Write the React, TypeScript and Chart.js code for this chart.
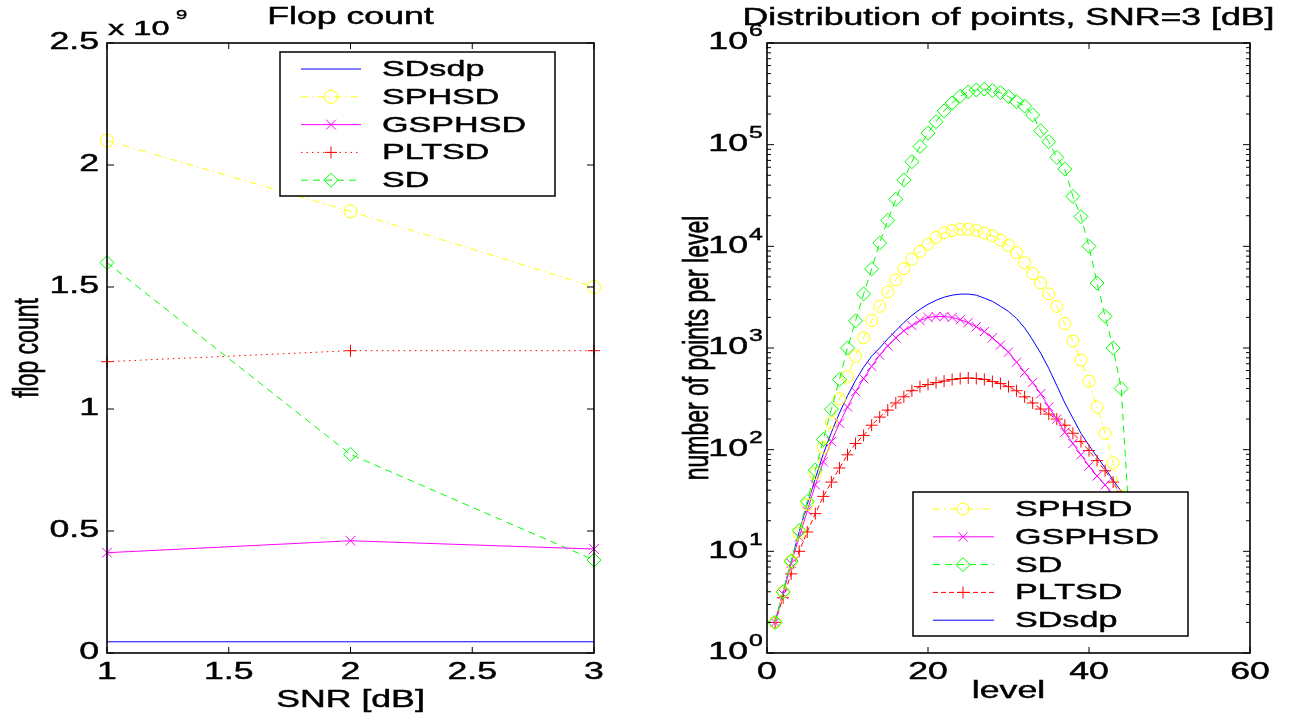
import React, { useEffect, useRef } from 'react';
import { Chart, registerables } from 'chart.js';

Chart.register(...registerables);

const FONT = '"Liberation Sans", Arial, Helvetica, sans-serif';
const STRETCH = 1.55;

// ---------- Left chart: Flop count ----------
const snrDb = [1, 2, 3];
const flopSDsdp = [0.046e9, 0.046e9, 0.046e9];
const flopSPHSD = [2.1e9, 1.81e9, 1.5e9];
const flopGSPHSD = [0.411e9, 0.46e9, 0.426e9];
const flopPLTSD = [1.194e9, 1.239e9, 1.239e9];
const flopSD = [1.6e9, 0.814e9, 0.381e9];
const flopXTicks = [1, 1.5, 2, 2.5, 3];
const flopYTicks = [0, 0.5e9, 1e9, 1.5e9, 2e9, 2.5e9];

// ---------- Right chart: Distribution of points ----------
const levels = [1, 2, 3, 4, 5, 6, 7, 8, 9, 10, 11, 12, 13, 14, 15, 16, 17, 18, 19, 20, 21, 22, 23, 24, 25, 26, 27, 28, 29, 30, 31, 32, 33, 34, 35, 36, 37, 38, 39, 40, 41, 42, 43, 44, 45];
const ptsSD = [2, 4, 8, 16, 31, 63, 126, 250, 490, 1000, 1850, 3400, 6000, 10800, 18000, 29000, 45000, 68000, 96000, 130000, 168000, 215000, 257000, 300000, 330000, 345000, 352000, 340000, 325000, 297000, 265000, 240000, 196000, 137000, 107000, 75000, 57500, 31000, 19600, 10000, 4350, 2050, 1000, 400, 20];
const ptsSPHSD = [2, 4, 8, 15, 29, 58, 105, 186, 316, 525, 830, 1260, 1860, 2570, 3550, 4680, 6030, 7500, 8900, 10500, 12300, 13600, 14300, 14700, 14700, 14300, 13500, 12700, 11500, 10200, 8700, 6900, 5400, 4360, 3400, 2570, 1740, 1170, 760, 470, 263, 145, 74, 35, 12];
const ptsGSPHSD = [2, 3.8, 7.6, 13.8, 25, 45, 76, 120, 182, 263, 372, 500, 660, 850, 1050, 1260, 1480, 1660, 1860, 2000, 2040, 2040, 2000, 1900, 1780, 1620, 1450, 1260, 1070, 910, 725, 575, 457, 355, 263, 200, 148, 115, 89, 69, 55, 45, 36, 28];
const ptsPLTSD = [2, 3.5, 6, 10, 15.5, 23.5, 34.7, 48, 66, 89, 115, 138, 174, 209, 245, 288, 331, 380, 417, 437, 457, 473, 490, 501, 507, 501, 490, 468, 447, 417, 380, 331, 288, 251, 224, 200, 174, 145, 120, 98, 78, 62, 48, 35];
const ptsSDsdp = [2, 4, 7.9, 15.5, 29, 52, 91, 148, 229, 339, 479, 646, 832, 1000, 1230, 1480, 1780, 2090, 2400, 2690, 2950, 3160, 3310, 3390, 3390, 3310, 3090, 2880, 2570, 2290, 1950, 1580, 1200, 890, 630, 427, 288, 204, 145, 110, 85, 66, 50, 39, 22];
const levelTicks = [0, 20, 40, 60];
const countTicks = [1, 10, 100, 1000, 10000, 100000, 1000000];

type Marker = 'none' | 'circle' | 'crossRot' | 'cross' | 'rectRot';
interface Style { label: string; color: string; dash: number[]; marker: Marker; radius: number; }

const DASHDOT = [7, 4, 1.5, 4];
const DASHED = [7, 5];
const DOTTED = [1.5, 4];

const leftStyles: Record<string, Style> = {
  SDsdp: { label: 'SDsdp', color: '#0000ff', dash: [], marker: 'none', radius: 0 },
  SPHSD: { label: 'SPHSD', color: '#ffff00', dash: DASHDOT, marker: 'circle', radius: 6.5 },
  GSPHSD: { label: 'GSPHSD', color: '#ff00ff', dash: [], marker: 'crossRot', radius: 7 },
  PLTSD: { label: 'PLTSD', color: '#ff0000', dash: DOTTED, marker: 'cross', radius: 6 },
  SD: { label: 'SD', color: '#00ff00', dash: DASHED, marker: 'rectRot', radius: 7 },
};
const rightStyles: Record<string, Style> = {
  SPHSD: { label: 'SPHSD', color: '#ffff00', dash: DASHDOT, marker: 'circle', radius: 6 },
  GSPHSD: { label: 'GSPHSD', color: '#ff00ff', dash: [], marker: 'crossRot', radius: 6.5 },
  SD: { label: 'SD', color: '#00ff00', dash: DASHED, marker: 'rectRot', radius: 7 },
  PLTSD: { label: 'PLTSD', color: '#ff0000', dash: [5, 3], marker: 'cross', radius: 6 },
  SDsdp: { label: 'SDsdp', color: '#0000ff', dash: [], marker: 'none', radius: 0 },
};

function patchContext(ctx: any) {
  if (ctx.__patched) return;
  const orig = ctx.fillText;
  ctx.__origFillText = orig;
  ctx.fillText = function (text: string, x: number, y: number) {
    this.save();
    this.translate(x, y);
    this.scale(STRETCH, 1);
    orig.call(this, text, 0, 0);
    this.strokeStyle = this.fillStyle;
    this.lineWidth = 0.45;
    this.setLineDash([]);
    this.strokeText(text, 0, 0);
    this.restore();
  };
  ctx.__patched = true;
}

function drawRotated(ctx: any, text: string, x: number, y: number, size: number) {
  ctx.save();
  ctx.font = `${size}px ${FONT}`;
  ctx.fillStyle = '#000';
  ctx.strokeStyle = '#000';
  ctx.lineWidth = 0.45;
  ctx.translate(x, y);
  ctx.rotate(-Math.PI / 2);
  ctx.scale(1, STRETCH);
  ctx.textAlign = 'center';
  ctx.textBaseline = 'alphabetic';
  ctx.__origFillText.call(ctx, text, 0, 0);
  ctx.strokeText(text, 0, 0);
  ctx.restore();
}

function drawText(ctx: any, text: string, x: number, y: number, size: number, align: CanvasTextAlign, baseline: CanvasTextBaseline) {
  ctx.save();
  ctx.font = `${size}px ${FONT}`;
  ctx.fillStyle = '#000';
  ctx.textAlign = align;
  ctx.textBaseline = baseline;
  ctx.fillText(text, x, y);
  ctx.restore();
}

function drawMarker(ctx: CanvasRenderingContext2D, m: Marker, x: number, y: number, r: number) {
  if (m === 'none') return;
  ctx.beginPath();
  if (m === 'circle') {
    ctx.arc(x, y, r, 0, Math.PI * 2);
  } else if (m === 'crossRot') {
    const d = r * Math.SQRT1_2;
    ctx.moveTo(x - d, y - d); ctx.lineTo(x + d, y + d);
    ctx.moveTo(x + d, y - d); ctx.lineTo(x - d, y + d);
  } else if (m === 'cross') {
    ctx.moveTo(x - r, y); ctx.lineTo(x + r, y);
    ctx.moveTo(x, y - r); ctx.lineTo(x, y + r);
  } else if (m === 'rectRot') {
    ctx.moveTo(x - r, y); ctx.lineTo(x, y - r); ctx.lineTo(x + r, y); ctx.lineTo(x, y + r);
    ctx.closePath();
  }
  ctx.stroke();
}

interface LegendBox { x0: number; y0: number; x1: number; y1: number; lineX0: number; lineX1: number; markX: number; textX: number; rows: number[]; }

function drawLegend(ctx: CanvasRenderingContext2D, box: LegendBox, items: Style[]) {
  ctx.save();
  ctx.fillStyle = '#fff';
  ctx.fillRect(box.x0, box.y0, box.x1 - box.x0, box.y1 - box.y0);
  ctx.strokeStyle = '#000';
  ctx.lineWidth = 1.5;
  ctx.setLineDash([]);
  ctx.strokeRect(box.x0, box.y0, box.x1 - box.x0, box.y1 - box.y0);
  items.forEach((it, i) => {
    const y = box.rows[i];
    ctx.strokeStyle = it.color;
    ctx.lineWidth = 1;
    ctx.setLineDash(it.dash);
    ctx.beginPath();
    ctx.moveTo(box.lineX0, y);
    ctx.lineTo(box.lineX1, y);
    ctx.stroke();
    ctx.setLineDash([]);
    drawMarker(ctx, it.marker, box.markX, y, it.radius);
    drawText(ctx, it.label, box.textX, y + 1, 22, 'left', 'middle');
  });
  ctx.restore();
}

function makeDataset(st: Style, xs: number[], ys: number[], clip: boolean) {
  return {
    label: st.label,
    data: ys.map((y, i) => ({ x: xs[i], y })),
    borderColor: st.color,
    borderWidth: 1,
    borderDash: st.dash,
    pointStyle: st.marker === 'none' ? 'circle' : st.marker,
    pointRadius: st.marker === 'none' ? 0 : st.radius,
    pointHoverRadius: 0,
    pointBorderColor: st.color,
    pointBackgroundColor: 'rgba(0,0,0,0)',
    pointBorderWidth: 1,
    fill: false,
    tension: 0,
    clip: clip ? undefined : false,
  };
}

function frameAndTicks(ctx: CanvasRenderingContext2D, a: any, xPix: number[], yPix: number[], yMinor: number[]) {
  ctx.save();
  ctx.setLineDash([]);
  ctx.strokeStyle = '#000';
  ctx.lineWidth = 1;
  ctx.beginPath();
  for (const x of xPix) {
    ctx.moveTo(x, a.bottom); ctx.lineTo(x, a.bottom - 6);
    ctx.moveTo(x, a.top); ctx.lineTo(x, a.top + 6);
  }
  for (const y of yPix) {
    ctx.moveTo(a.left, y); ctx.lineTo(a.left + 7, y);
    ctx.moveTo(a.right, y); ctx.lineTo(a.right - 7, y);
  }
  for (const y of yMinor) {
    ctx.moveTo(a.left, y); ctx.lineTo(a.left + 4, y);
    ctx.moveTo(a.right, y); ctx.lineTo(a.right - 4, y);
  }
  ctx.stroke();
  ctx.lineWidth = 1.6;
  ctx.strokeRect(a.left, a.top, a.right - a.left, a.bottom - a.top);
  ctx.restore();
}

function leftConfig(): any {
  const order = [
    [leftStyles.SDsdp, flopSDsdp],
    [leftStyles.SPHSD, flopSPHSD],
    [leftStyles.GSPHSD, flopGSPHSD],
    [leftStyles.PLTSD, flopPLTSD],
    [leftStyles.SD, flopSD],
  ] as [Style, number[]][];
  const plugin = {
    id: 'leftDecor',
    afterDraw(chart: any) {
      const { ctx, chartArea: a, scales } = chart;
      frameAndTicks(
        ctx, a,
        flopXTicks.map((v) => scales.x.getPixelForValue(v)),
        flopYTicks.map((v) => scales.y.getPixelForValue(v)),
        []
      );
      drawLegend(ctx, {
        x0: 280, y0: 52, x1: 555, y1: 196,
        lineX0: 301, lineX1: 361, markX: 331, textX: 382,
        rows: [69, 96.8, 124.6, 152.4, 180.2],
      }, order.map((o) => o[0]));
      const cx = (a.left + a.right) / 2;
      drawText(ctx, 'Flop count', cx, 24, 23, 'center', 'alphabetic');
      drawText(ctx, 'SNR [dB]', cx, 707, 23, 'center', 'alphabetic');
      drawText(ctx, 'x 10', 108, 35, 21, 'left', 'alphabetic');
      drawText(ctx, '9', 176, 19, 13, 'left', 'alphabetic');
      drawRotated(ctx, 'flop count', 38, (a.top + a.bottom) / 2, 23);
    },
  };
  return {
    type: 'line',
    data: { datasets: order.map(([st, ys]) => makeDataset(st, snrDb, ys, false)) },
    options: {
      animation: false,
      responsive: false,
      devicePixelRatio: 1,
      events: [],
      layout: { padding: { left: 0, right: 56, top: 43, bottom: 0 } },
      plugins: { legend: { display: false }, title: { display: false }, tooltip: { enabled: false } },
      scales: {
        x: {
          type: 'linear', min: 1, max: 3,
          afterBuildTicks: (s: any) => { s.ticks = flopXTicks.map((v) => ({ value: v })); },
          afterFit: (s: any) => { s.height = 62; },
          ticks: { font: { family: FONT, size: 23 }, color: '#000', padding: 6, autoSkip: false, maxRotation: 0, callback: (v: any) => String(v) },
          grid: { display: false, drawTicks: false },
          border: { display: false },
        },
        y: {
          type: 'linear', min: 0, max: 2.5e9,
          afterBuildTicks: (s: any) => { s.ticks = flopYTicks.map((v) => ({ value: v })); },
          afterFit: (s: any) => { s.width = 107; },
          ticks: { font: { family: FONT, size: 23 }, color: '#000', padding: 8, autoSkip: false, callback: (v: any) => String(Math.round(Number(v) / 1e8) / 10) },
          grid: { display: false, drawTicks: false },
          border: { display: false },
        },
      },
    },
    plugins: [plugin],
  };
}

function rightConfig(): any {
  const drawOrder = [
    [rightStyles.SD, ptsSD],
    [rightStyles.SPHSD, ptsSPHSD],
    [rightStyles.GSPHSD, ptsGSPHSD],
    [rightStyles.PLTSD, ptsPLTSD],
    [rightStyles.SDsdp, ptsSDsdp],
  ] as [Style, number[]][];
  const legendOrder = [rightStyles.SPHSD, rightStyles.GSPHSD, rightStyles.SD, rightStyles.PLTSD, rightStyles.SDsdp];
  const plugin = {
    id: 'rightDecor',
    afterDraw(chart: any) {
      const { ctx, chartArea: a, scales } = chart;
      const minor: number[] = [];
      for (let k = 0; k < 6; k++) {
        for (let m = 2; m <= 9; m++) minor.push(scales.y.getPixelForValue(m * Math.pow(10, k)));
      }
      frameAndTicks(
        ctx, a,
        levelTicks.map((v) => scales.x.getPixelForValue(v)),
        countTicks.map((v) => scales.y.getPixelForValue(v)),
        minor
      );
      countTicks.forEach((v) => {
        const y = scales.y.getPixelForValue(v);
        drawText(ctx, String(Math.round(Math.log10(v))), a.left - 18, y - 11, 16, 'left', 'middle');
      });
      drawLegend(ctx, {
        x0: 263, y0: 492, x1: 538, y1: 636,
        lineX0: 283, lineX1: 344, markX: 313, textX: 365,
        rows: [509, 536.8, 564.6, 592.4, 620.2],
      }, legendOrder);
      const cx = (a.left + a.right) / 2;
      drawText(ctx, 'Distribution of points, SNR=3 [dB]', cx, 25, 23, 'center', 'alphabetic');
      drawText(ctx, 'level', cx, 698, 23, 'center', 'alphabetic');
      drawRotated(ctx, 'number of points per level', 58, (a.top + a.bottom) / 2, 23);
    },
  };
  return {
    type: 'line',
    data: {
      datasets: drawOrder.map(([st, ys]) => makeDataset(st, levels.slice(0, ys.length), ys, true)),
    },
    options: {
      animation: false,
      responsive: false,
      devicePixelRatio: 1,
      events: [],
      layout: { padding: { left: 0, right: 50, top: 43, bottom: 0 } },
      plugins: { legend: { display: false }, title: { display: false }, tooltip: { enabled: false } },
      scales: {
        x: {
          type: 'linear', min: 0, max: 60,
          afterBuildTicks: (s: any) => { s.ticks = levelTicks.map((v) => ({ value: v })); },
          afterFit: (s: any) => { s.height = 62; },
          ticks: { font: { family: FONT, size: 23 }, color: '#000', padding: 6, autoSkip: false, maxRotation: 0, callback: (v: any) => String(v) },
          grid: { display: false, drawTicks: false },
          border: { display: false },
        },
        y: {
          type: 'logarithmic', min: 1, max: 1e6,
          afterBuildTicks: (s: any) => { s.ticks = countTicks.map((v) => ({ value: v })); },
          afterFit: (s: any) => { s.width = 117; },
          ticks: { font: { family: FONT, size: 23 }, color: '#000', padding: 19, autoSkip: false, callback: () => '10' },
          grid: { display: false, drawTicks: false },
          border: { display: false },
        },
      },
    },
    plugins: [plugin],
  };
}

function ChartCanvas({ left, makeConfig }: { left: number; makeConfig: () => any }) {
  const ref = useRef<HTMLCanvasElement>(null);
  useEffect(() => {
    const canvas = ref.current!;
    const ctx = canvas.getContext('2d')!;
    patchContext(ctx);
    const chart = new Chart(ctx, makeConfig());
    return () => chart.destroy();
  }, []);
  return (
    <canvas
      ref={ref}
      width={650}
      height={715}
      style={{ position: 'absolute', left, top: 0, width: 650, height: 715 }}
    />
  );
}

export default function App() {
  return (
    <div style={{ position: 'absolute', left: 0, top: 0, width: 1300, height: 715, background: '#fff', overflow: 'hidden' }}>
      <ChartCanvas left={0} makeConfig={leftConfig} />
      <ChartCanvas left={650} makeConfig={rightConfig} />
    </div>
  );
}
